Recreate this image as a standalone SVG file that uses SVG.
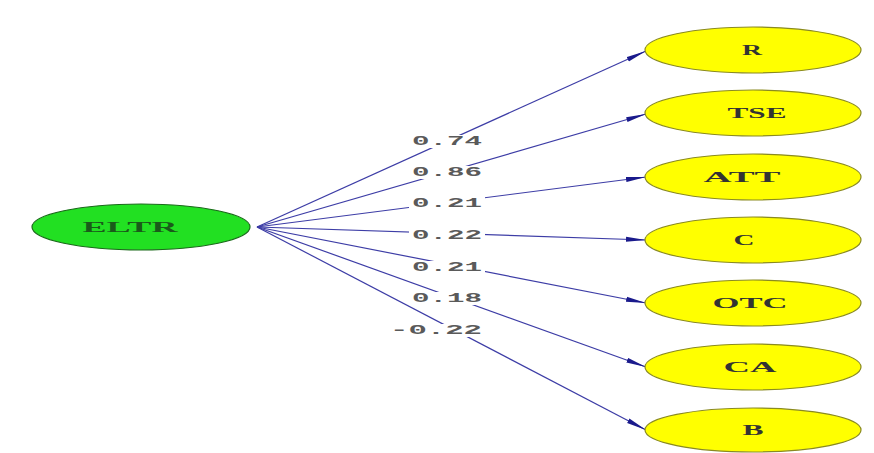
<svg xmlns="http://www.w3.org/2000/svg" width="874" height="453" viewBox="0 0 874 453">
<defs>
<marker id="ah" viewBox="0 0 20 6" refX="20" refY="3" markerWidth="20" markerHeight="6" markerUnits="userSpaceOnUse" orient="auto">
<path d="M0,0.5 L20,3 L0,5.5 Z" fill="#1a1a8c"/>
</marker>
</defs>
<style>
.edge{stroke:#3d3da6;stroke-width:1.2;fill:none;marker-end:url(#ah)}
.lbl{font-family:"Liberation Mono",monospace;font-size:12px;fill:#5a5a5a;font-weight:bold}
.bg{fill:#ffffff}
.nt{font-family:"Liberation Serif",serif;font-size:14px;font-weight:bold;text-anchor:middle}
.y{fill:#ffff00;stroke:#8a8a20;stroke-width:1.2}
</style>
<rect width="874" height="453" fill="#ffffff"/>
<g id="connectors">
<path class="edge" d="M257,227 L646,51"/>
<path class="edge" d="M257,227 L646,114"/>
<path class="edge" d="M257,227 L646,177"/>
<path class="edge" d="M257,227 L646,240"/>
<path class="edge" d="M257,227 L646,303"/>
<path class="edge" d="M257,227 L646,367"/>
<path class="edge" d="M257,227 L646,430"/>
<rect class="bg" x="409" y="135" width="76" height="13"/>
<rect class="bg" x="409" y="166" width="76" height="13"/>
<rect class="bg" x="409" y="197" width="76" height="13"/>
<rect class="bg" x="409" y="229" width="76" height="13"/>
<rect class="bg" x="409" y="261" width="76" height="13"/>
<rect class="bg" x="409" y="292" width="76" height="13"/>
<rect class="bg" x="387" y="324" width="98" height="13"/>
<text class="lbl" x="412" y="145" textLength="70" lengthAdjust="spacingAndGlyphs">0.74</text>
<text class="lbl" x="412" y="176" textLength="70" lengthAdjust="spacingAndGlyphs">0.86</text>
<text class="lbl" x="412" y="207" textLength="70" lengthAdjust="spacingAndGlyphs">0.21</text>
<text class="lbl" x="412" y="239" textLength="70" lengthAdjust="spacingAndGlyphs">0.22</text>
<text class="lbl" x="412" y="271" textLength="70" lengthAdjust="spacingAndGlyphs">0.21</text>
<text class="lbl" x="412" y="302" textLength="70" lengthAdjust="spacingAndGlyphs">0.18</text>
<text class="lbl" x="390" y="334" textLength="92" lengthAdjust="spacingAndGlyphs">-0.22</text>
</g>
<g id="ELTR">
<ellipse cx="141" cy="227" rx="109" ry="23" fill="#22e022" stroke="#1a6a1a" stroke-width="1.2"/>
<text class="nt" x="130" y="232" fill="#1a5a1a" textLength="95" lengthAdjust="spacingAndGlyphs">ELTR</text>
</g>
<g id="R">
<ellipse class="y" cx="753" cy="50" rx="108" ry="23"/>
<text class="nt" x="752" y="55" fill="#333" textLength="20" lengthAdjust="spacingAndGlyphs">R</text>
</g>
<g id="TSE">
<ellipse class="y" cx="753" cy="113" rx="108" ry="23"/>
<text class="nt" x="757" y="118" fill="#333" textLength="59" lengthAdjust="spacingAndGlyphs">TSE</text>
</g>
<g id="ATT">
<ellipse class="y" cx="753" cy="177" rx="108" ry="23"/>
<text class="nt" x="742" y="182" fill="#333" textLength="77" lengthAdjust="spacingAndGlyphs">ATT</text>
</g>
<g id="C">
<ellipse class="y" cx="753" cy="240" rx="108" ry="23"/>
<text class="nt" x="744" y="245" fill="#333" textLength="21" lengthAdjust="spacingAndGlyphs">C</text>
</g>
<g id="OTC">
<ellipse class="y" cx="753" cy="303" rx="108" ry="23"/>
<text class="nt" x="750" y="308" fill="#333" textLength="75" lengthAdjust="spacingAndGlyphs">OTC</text>
</g>
<g id="CA">
<ellipse class="y" cx="753" cy="367" rx="108" ry="23"/>
<text class="nt" x="750" y="372" fill="#333" textLength="53" lengthAdjust="spacingAndGlyphs">CA</text>
</g>
<g id="B">
<ellipse class="y" cx="753" cy="430" rx="108" ry="22"/>
<text class="nt" x="753" y="435" fill="#333" textLength="21" lengthAdjust="spacingAndGlyphs">B</text>
</g>
</svg>
